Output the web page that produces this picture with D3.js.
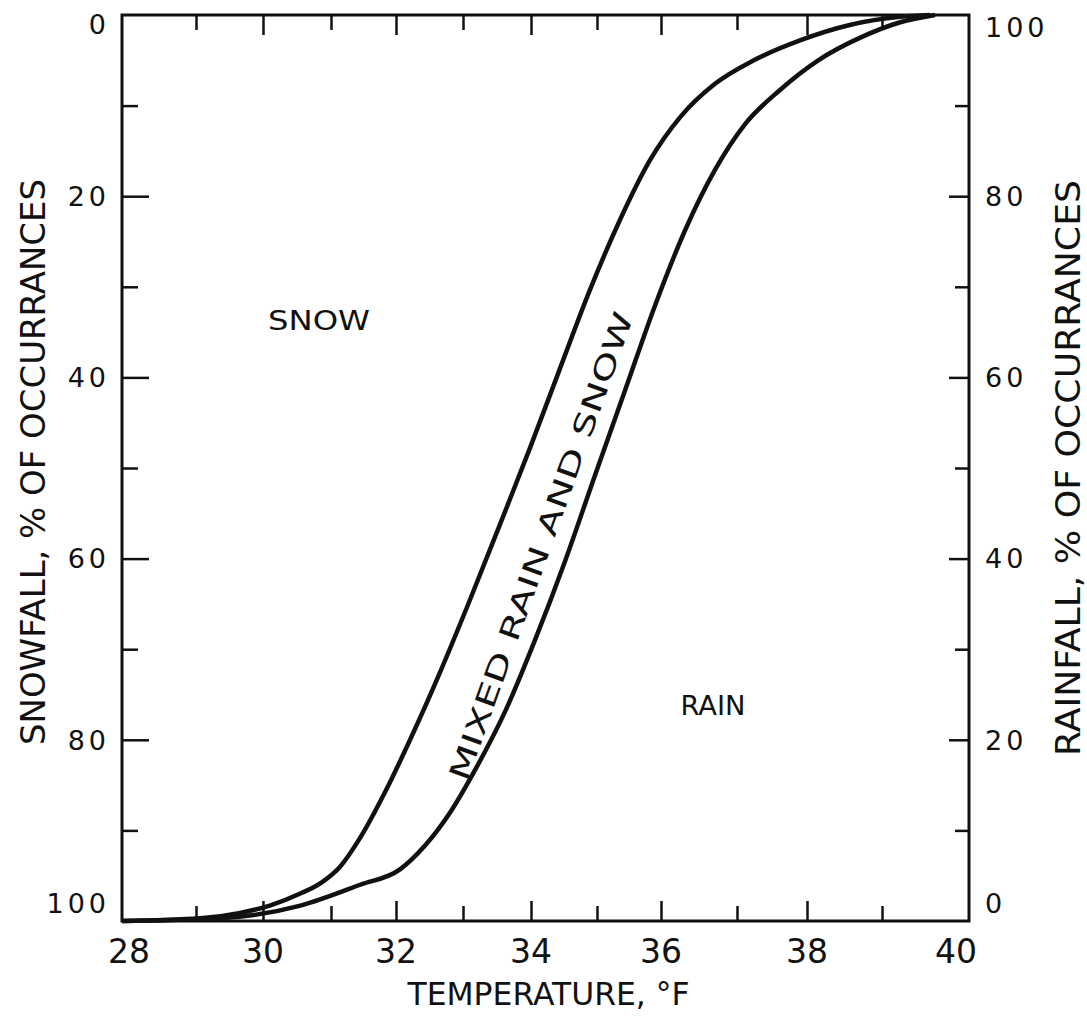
<!DOCTYPE html>
<html>
<head>
<meta charset="utf-8">
<script src="https://cdn.jsdelivr.net/npm/d3@7"></script>
<style>
  body { margin: 0; background: #fff; }
  svg text { font-family: "DejaVu Sans", sans-serif; fill: #111; }
</style>
</head>
<body>
<div id="chart"></div>
<script>
// snowfall boundary (left axis, % snow)
const snowTemps = [28, 29.06, 29.66, 30.1, 30.54, 30.87, 31.14, 31.45, 31.83, 32.21, 32.66, 33.1, 33.54, 33.99, 34.44, 34.89, 35.36, 35.83, 36.25, 36.71, 37.24, 37.9, 38.57, 39.21, 39.55];
const snowPct   = [100, 99.7, 99.1, 98.3, 97.0, 95.7, 94.0, 90.8, 85.8, 80.0, 72.5, 64.6, 56.3, 47.7, 39.0, 30.4, 22.6, 16.0, 11.3, 7.6, 5.0, 2.8, 1.1, 0.2, 0];

// rainfall boundary (right axis, % rain)
const rainTemps = [28, 29.36, 30.55, 31.45, 32.06, 32.43, 32.81, 33.18, 33.63, 34.06, 34.52, 34.97, 35.44, 35.91, 36.32, 36.71, 37.11, 37.61, 38.15, 38.71, 39.21, 39.61];
const rainPct   = [0, 0.3, 1.7, 4.0, 5.7, 8.3, 12.0, 16.7, 23.3, 31.0, 39.8, 49.2, 58.6, 68.0, 76.3, 82.9, 87.9, 91.7, 95.0, 97.5, 99.2, 100];

const tempTicks = d3.range(28, 41, 1);
const tempLabels = d3.range(28, 41, 2);
const pctMajor = [0, 20, 40, 60, 80, 100];
const pctMinor = [10, 30, 50, 70, 90];

const W = 1087, H = 1018;
const margin = {top: 15, right: 118, bottom: 97, left: 122};
const x0 = margin.left, x1 = W - margin.right, y0 = margin.top, y1 = H - margin.bottom;

const svg = d3.select("#chart").append("svg")
    .attr("width", W)
    .attr("height", H);

// the printed ticks are hand spaced, so the temperature scale is piecewise
const x = d3.scaleLinear()
    .domain(tempTicks)
    .range([x0, 196, 263, 331, 396, 463, 531, 597, 661, 737, 807, 882, x1]);
const ySnow = d3.scaleLinear().domain([0, 100]).range([y0, y1]);
const yRain = d3.scaleLinear().domain([0, 100]).range([y1, y0]);

const inner = tempTicks.slice(1, -1);

// top and bottom ticks (inward)
[["top", d3.axisTop, y0, 1], ["bottom", d3.axisBottom, y1, -1]].forEach(([name, fn, yPos, dir]) => {
    svg.append("g")
        .attr("class", "x-axis " + name)
        .attr("transform", `translate(0,${yPos})`)
        .call(fn(x).tickValues(inner).tickSize(0).tickFormat(""))
        .call(g => g.select(".domain").remove())
        .selectAll(".tick line")
        .attr("y2", d => dir * (d % 2 === 0 ? 20 : 15))
        .attr("stroke", "#111")
        .attr("stroke-width", 2.5);
});

// bottom labels
svg.append("g")
    .attr("class", "x-labels")
    .selectAll("text")
    .data(tempLabels)
    .join("text")
    .attr("x", d => x(d) + (d === 28 ? 7 : d === 40 ? -13 : 0))
    .attr("y", y1 + 42)
    .attr("text-anchor", "middle")
    .attr("font-size", 33)
    .text(d => d);

// left axis
svg.append("g")
    .attr("transform", `translate(${x0},0)`)
    .call(d3.axisRight(ySnow).tickValues(pctMinor).tickSize(16).tickFormat(""))
    .call(g => g.select(".domain").remove())
    .selectAll("line").attr("stroke", "#111").attr("stroke-width", 2.5);

svg.append("g")
    .attr("transform", `translate(${x0},0)`)
    .call(d3.axisRight(ySnow).tickValues(pctMajor.slice(1, -1)).tickSize(27).tickFormat(""))
    .call(g => g.select(".domain").remove())
    .selectAll("line").attr("stroke", "#111").attr("stroke-width", 2.5);

svg.append("g")
    .selectAll("text")
    .data(pctMajor)
    .join("text")
    .attr("x", x0 - 12)
    .attr("y", d => ySnow(d) + (d === 0 ? 9 : d === 100 ? -18 : 0))
    .attr("dy", "0.36em")
    .attr("text-anchor", "end")
    .attr("font-size", 27)
    .attr("letter-spacing", 4)
    .text(d => d);

// right axis
svg.append("g")
    .attr("transform", `translate(${x1},0)`)
    .call(d3.axisLeft(yRain).tickValues(pctMinor).tickSize(14).tickFormat(""))
    .call(g => g.select(".domain").remove())
    .selectAll("line").attr("stroke", "#111").attr("stroke-width", 2.5);

svg.append("g")
    .attr("transform", `translate(${x1},0)`)
    .call(d3.axisLeft(yRain).tickValues(pctMajor.slice(1, -1)).tickSize(20).tickFormat(""))
    .call(g => g.select(".domain").remove())
    .selectAll("line").attr("stroke", "#111").attr("stroke-width", 2.5);

svg.append("g")
    .selectAll("text")
    .data(pctMajor)
    .join("text")
    .attr("x", x1 + 16)
    .attr("y", d => yRain(d) + (d === 100 ? 12 : d === 0 ? -18 : 0))
    .attr("dy", "0.36em")
    .attr("text-anchor", "start")
    .attr("font-size", 27)
    .attr("letter-spacing", 4)
    .text(d => d);

// frame
svg.append("rect")
    .attr("x", x0).attr("y", y0)
    .attr("width", x1 - x0).attr("height", y1 - y0)
    .attr("fill", "none")
    .attr("stroke", "#111")
    .attr("stroke-width", 3);

// curves
const line = d3.line().curve(d3.curveMonotoneX);

svg.append("path")
    .attr("d", line(snowTemps.map((t, i) => [x(t), ySnow(snowPct[i])])))
    .attr("fill", "none")
    .attr("stroke", "#111")
    .attr("stroke-width", 4.5);

svg.append("path")
    .attr("d", line(rainTemps.map((t, i) => [x(t), yRain(rainPct[i])])))
    .attr("fill", "none")
    .attr("stroke", "#111")
    .attr("stroke-width", 4.5);

// axis titles
svg.append("text")
    .attr("x", (x0 + x1) / 2 + 3)
    .attr("y", 1005)
    .attr("text-anchor", "middle")
    .attr("font-size", 32)
    .attr("textLength", 282)
    .attr("lengthAdjust", "spacingAndGlyphs")
    .text("TEMPERATURE, °F");

svg.append("text")
    .attr("transform", "translate(45,462) rotate(-90)")
    .attr("text-anchor", "middle")
    .attr("font-size", 33)
    .attr("textLength", 566)
    .attr("lengthAdjust", "spacingAndGlyphs")
    .text("SNOWFALL,  % OF OCCURRANCES");

svg.append("text")
    .attr("transform", "translate(1080,468) rotate(-90)")
    .attr("text-anchor", "middle")
    .attr("font-size", 33)
    .attr("textLength", 576)
    .attr("lengthAdjust", "spacingAndGlyphs")
    .text("RAINFALL, % OF OCCURRANCES");

// region labels
svg.append("text")
    .attr("x", 319).attr("y", 330)
    .attr("text-anchor", "middle")
    .attr("font-size", 27)
    .attr("textLength", 102)
    .attr("lengthAdjust", "spacingAndGlyphs")
    .text("SNOW");

svg.append("text")
    .attr("x", 713).attr("y", 715)
    .attr("text-anchor", "middle")
    .attr("font-size", 27)
    .attr("textLength", 65)
    .attr("lengthAdjust", "spacingAndGlyphs")
    .text("RAIN");

svg.append("text")
    .attr("transform", "translate(541,546) rotate(-70.3)")
    .attr("text-anchor", "middle")
    .attr("dy", "0.36em")
    .attr("font-size", 28)
    .attr("textLength", 495)
    .attr("lengthAdjust", "spacingAndGlyphs")
    .text("MIXED RAIN AND SNOW");
</script>
</body>
</html>
